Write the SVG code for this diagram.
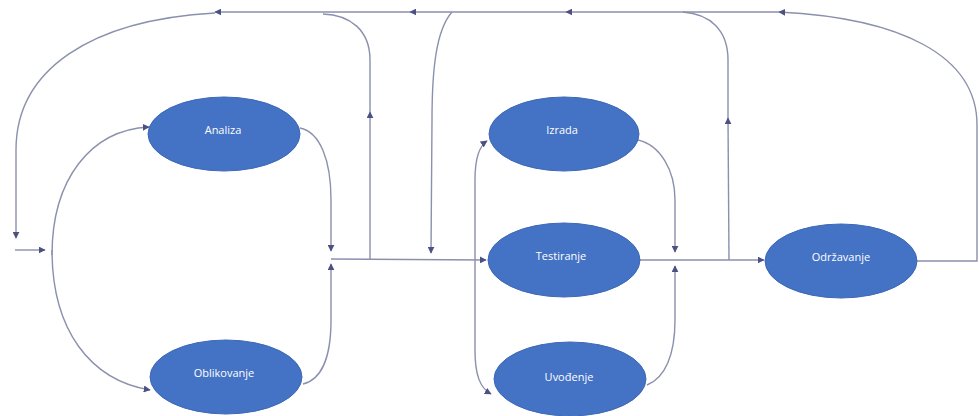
<svg xmlns="http://www.w3.org/2000/svg" width="979" height="416" viewBox="0 0 979 416">
<defs>
<marker id="ah" viewBox="0 0 10 10" refX="9" refY="5" markerWidth="7" markerHeight="7" markerUnits="userSpaceOnUse" orient="auto">
<path d="M0,0 L10,5 L0,10 Z" fill="#4b5282"/>
</marker>
</defs>
<style>
.n{fill:#4472c4;stroke:#3d68b5;stroke-width:1}
.t{fill:#ffffff;font-family:"Open Sans","Liberation Sans",sans-serif;font-size:11px;text-anchor:middle}
.c{fill:none;stroke:#8b90ad;stroke-width:1.4}
.a{marker-end:url(#ah)}
</style>
<rect width="979" height="416" fill="#ffffff"/>
<g id="connectors">
<!-- top return line -->
<path class="c a" d="M917,261 L977,261 L977,125 C977,55 900,18 779,12"/>
<path class="c a" d="M779,12 L566,12"/>
<path class="c a" d="M566,12 L410,12"/>
<path class="c a" d="M410,12 L215,12"/>
<path class="c a" d="M215,13 C90,20 16,70 16,150 L16,238"/>
<path class="c a" d="M15,250 L45,250"/>
<!-- split to Analiza / Oblikovanje -->
<path class="c a" d="M52,255 C52,180 90,130 149,127"/>
<path class="c a" d="M52,250 C52,330 90,380 150,390"/>
<!-- Analiza / Oblikovanje to join -->
<path class="c a" d="M300,128 C320,132 331,160 331,200 L331,251"/>
<path class="c a" d="M303,384 C320,380 331,360 331,320 L331,264"/>
<path class="c a" d="M331,259 L486,260"/>
<!-- up line at 370 -->
<path class="c a" d="M370,259 L370,112"/>
<path class="c" d="M370,112 L370,60 C370,30 350,15 323,14"/>
<!-- down line at 432 -->
<path class="c a" d="M452,12 C436,30 432,70 432,120 L431,253"/>
<!-- split to Izrada / Uvodenje -->
<path class="c a" d="M475,260 L475,180 C475,160 478,147 487,141"/>
<path class="c a" d="M475,260 L475,350 C475,375 480,388 491,394"/>
<!-- Izrada / Uvodenje to join -->
<path class="c a" d="M638,140 C660,145 675,170 675,200 L675,252"/>
<path class="c a" d="M647,385 C665,378 675,355 675,320 L675,266"/>
<path class="c a" d="M640,260 L764,260"/>
<!-- up line at 729 -->
<path class="c a" d="M729,260 L728,118"/>
<path class="c" d="M728,118 L728,60 C728,30 710,14 683,12"/>
</g>
<g id="analiza"><ellipse class="n" cx="224" cy="134" rx="76" ry="37"/><text class="t" x="223" y="134">Analiza</text></g>
<g id="oblikovanje"><ellipse class="n" cx="226" cy="377" rx="76" ry="37"/><text class="t" x="224" y="377">Oblikovanje</text></g>
<g id="izrada"><ellipse class="n" cx="564" cy="134" rx="75" ry="37"/><text class="t" x="562" y="134">Izrada</text></g>
<g id="testiranje"><ellipse class="n" cx="564" cy="260" rx="76" ry="37"/><text class="t" x="561" y="260">Testiranje</text></g>
<g id="uvodenje"><ellipse class="n" cx="570" cy="379" rx="76" ry="37"/><text class="t" x="569" y="381">Uvođenje</text></g>
<g id="odrzavanje"><ellipse class="n" cx="841" cy="261" rx="76" ry="37"/><text class="t" x="841" y="261">Održavanje</text></g>
</svg>
